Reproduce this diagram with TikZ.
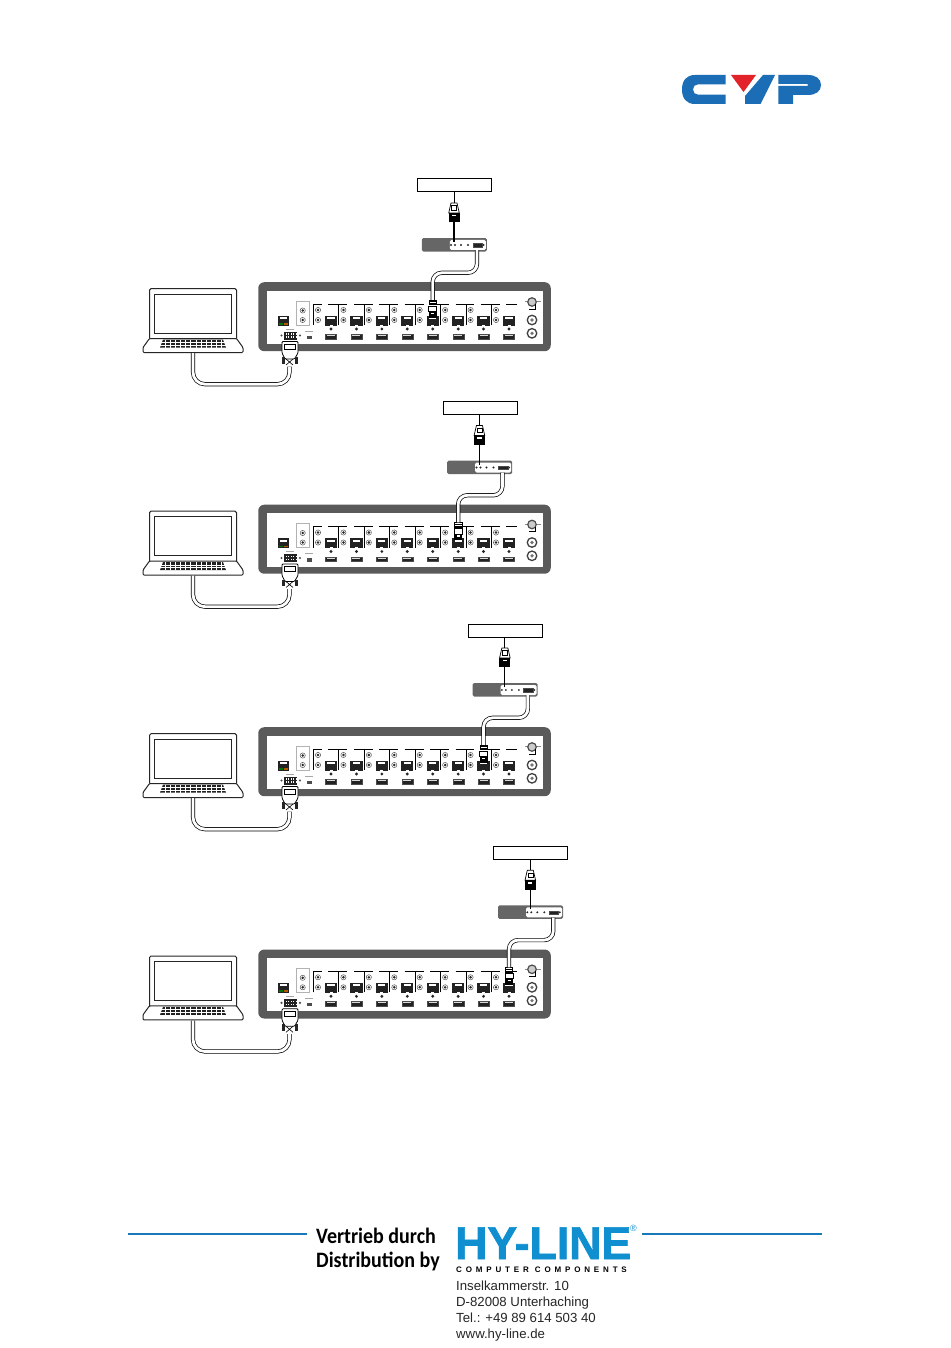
\documentclass[tikz,border=0pt]{standalone}
\usepackage{fontspec}
\usepackage{graphicx}
\setmainfont{Liberation Sans}
\newfontfamily\distfont{Carlito}
\usetikzlibrary{calc}
\definecolor{devgrey}{HTML}{5A5A5A}
\definecolor{rxgrey}{HTML}{666666}
\definecolor{portdark}{HTML}{222222}
\definecolor{cypblue}{HTML}{1B6DB5}
\definecolor{cypred}{HTML}{E2232A}
\definecolor{hyblue}{HTML}{0F8FCF}
\definecolor{ruleblue}{HTML}{1878B8}
\tikzset{
  box/.style={draw=black,line width=1pt,fill=white,minimum width=74pt,minimum height=13pt,inner sep=0pt},
  rxbody/.style={fill=rxgrey,rounded corners=1.5pt,minimum width=65pt,minimum height=13.5pt,inner sep=0pt},
  rxface/.style={fill=white,rounded corners=1.5pt,minimum width=36pt,minimum height=10pt,inner sep=0pt},
  hdmiport/.style={fill=portdark,draw=black!70,line width=.3pt,minimum width=11pt,minimum height=4.5pt,inner sep=0pt},
  rjport/.style={fill=portdark,minimum width=12.3pt,minimum height=10pt,inner sep=0pt},
  devouter/.style={fill=devgrey,rounded corners=6pt,minimum width=292.5pt,minimum height=69pt,inner sep=0pt},
  devinner/.style={fill=white,minimum width=276.5pt,minimum height=53.5pt,inner sep=0pt},
  cable/.style={draw=black,line width=.7pt,double=white,double distance=2.8pt},
  wire/.style={draw=black,line width=1pt},
  thinrule/.style={draw=black,line width=.8pt},
  screw/.style={draw=black!65,fill=white,line width=.5pt},
  scrcore/.style={fill=black!85},
  brand/.style={fill=cypblue},
  laptopline/.style={draw=black!85,line width=1pt,fill=white},
  blueline/.style={draw=ruleblue,line width=2pt},
  addr/.style={anchor=base west,inner sep=0pt,font=\fontsize{13.2}{16}\selectfont,text=black!85},
  dist/.style={anchor=base west,inner sep=0pt,font=\distfont\bfseries\fontsize{22}{24}\selectfont},
}
\newcommand{\diagramrow}[3]{%
\begin{scope}[shift={(0,#2)}]
  \pgfmathsetmacro{\sh}{25.43*(#3-4)}
  \pgfmathsetmacro{\tgtx}{331+25.43*#3}
  % laptop
  \path[laptopline,rounded corners=1.5pt] (149.5,338.5) -- (149.5,288.7) -- (236.5,288.7) -- (236.5,338.5);
  \node[draw=black!85,line width=1pt,fill=white,minimum width=77pt,minimum height=39pt,inner sep=0pt] (#1-screen) at (193,313.8) {};
  \path[laptopline,rounded corners=1pt] (149.5,338.5) -- (143,347.5) -- (143,352.5) -- (243,352.5) -- (243,347.5) -- (236.5,338.5) -- cycle;
  \node[minimum width=100pt,minimum height=1pt,inner sep=0pt] (#1-lapbase) at (193,352.5) {};
  \fill[portdark] (163,339.6) -- (223,339.6) -- (226,347.6) -- (160,347.6) -- cycle;
  \foreach \kx in {1,...,12}{\draw[white,line width=.3pt] ({160+\kx*5.1},339.6) -- ({160+\kx*5.1},347.6);}
  \foreach \ky in {342.2,344.9}{\draw[white,line width=.3pt] (160,\ky) -- (226,\ky);}
  % matrix device
  \node[devouter] (#1-dev) at (404.5,316.7) {};
  \node[devinner] (#1-devin) at (404.8,317.3) {};
  % management port
  \node[rjport,minimum width=11.5pt] (#1-mgmt) at (283.5,320.5) {};
  \fill[white] (280,317) rectangle (287,319);
  \fill[green!45!black] (279,323) rectangle (283,324.5);
  \fill[orange!70!black] (284,323) rectangle (288,324.5);
  \draw[black!35,line width=.4pt] (286,329) -- (294,329);
  % side strip
  \draw[black!30,line width=.5pt] (296.7,300.8) rectangle (309,325);
  \foreach \sy in {310.5,320}{
    \draw[screw] (302.7,\sy) circle (2.6pt); \fill[scrcore] (302.7,\sy) circle (1.4pt);}
  \draw[black!35,line width=.4pt] (305,331) -- (313,331);
  \fill[black!70] (307,335.5) rectangle (311.5,339);
  % outputs
  \foreach \i in {0,...,7}{
    \pgfmathsetmacro{\px}{331+25.43*\i}
    \pgfmathsetmacro{\bx}{\px-17.6}
    \draw[thinrule] (\bx,325) -- (\bx,304) -- ({\bx+8.4},304);
    \draw[thinrule] ({\bx+15},304) -- ({\bx+25.4},304);
    \foreach \sy in {310,320}{
      \draw[screw] ({\px-13},\sy) circle (2.6pt); \fill[scrcore] ({\px-13},\sy) circle (1.4pt);}
    \node[rjport] (#1-port\i) at (\px,320.5) {};
    \fill[white] ({\px-3.6},317) rectangle ({\px+3.6},319);
    \fill[white] ({\px-1.5},324.5) rectangle ({\px+1.5},325.5);
    \fill[black!85] (\px,329) circle (1.6pt);
    \node[hdmiport] (#1-hdmi\i) at (\px,336.5) {};
    \fill[white!85!black] ({\px-4},335) rectangle ({\px+4},336);
  }
  % ground and power
  \draw[black!45,line width=.4pt] (525,301.5) -- (541,301.5);
  \node[circle,draw=black!70,line width=1.2pt,fill=black!20,minimum size=8.5pt,inner sep=0pt] (#1-gnd) at (532,302) {};
  \draw[black,line width=.9pt] (535,304) -- (535,309) -- (529,309);
  \foreach \sy/\nm in {320/a,333.3/b}{
    \node[circle,draw=black!75,line width=1.3pt,fill=white,minimum size=9.5pt,inner sep=0pt] (#1-pw\nm) at (532,\sy) {};
    \fill[black!55] (532,\sy) circle (1.8pt);}
  % serial port and connector
  \node[fill=portdark,minimum width=13pt,minimum height=8pt,inner sep=0pt] (#1-serial) at (290,335.5) {};
  \foreach \sx in {285.5,288,290.5,293,295.5}{\fill[white] (\sx,333.3) rectangle ++(1,1.2);\fill[white] (\sx,336.3) rectangle ++(1,1.2);}
  \foreach \sx in {281.5,300}{\fill[black!70] (\sx,335.5) circle (1.2pt);}
  \draw[fill=white,draw=black,line width=.8pt,rounded corners=1pt] (282,341.5) -- (298,341.5) -- (298,353) -- (294.5,359) -- (285,359) -- (282,353) -- cycle;
  \draw[black,line width=.6pt] (284.5,344) rectangle (295.5,349);
  \fill[black!85] (281.8,357) rectangle (285,363.5);
  \fill[black!85] (295,357) rectangle (298.3,363.5);
  \draw[black,line width=.6pt] (286,359) -- (293,365) (293,359) -- (286,365);
  \node[minimum width=3pt,minimum height=1pt,inner sep=0pt] (#1-db9) at (289.5,366) {};
  \coordinate (#1-kneeA) at (289.5,384.2);
  \draw[cable,rounded corners=12pt] (#1-lapbase.south) |- (#1-kneeA) -- (#1-db9.south);
  % receiver
  \node[rxbody] (#1-rx) at ({454.3+\sh},244.8) {};
  \node[rxface] (#1-rxf) at ({467.8+\sh},245) {};
  \foreach \dx in {451,455,461,468,483.5}{\fill[black!85] ({\dx+\sh},245) circle (1.1pt);}
  \node[hdmiport,minimum width=9.5pt,minimum height=3.5pt] (#1-rxhdmi) at ({477.5+\sh},245.3) {};
  % display
  \node[box] (#1-disp) at ({454.6+\sh},185.5) {};
  \draw[black,line width=.7pt,fill=white] ({451+\sh},203) -- ({457+\sh},203) -- ({459.3+\sh},213) -- ({448.7+\sh},213) -- cycle;
  \draw[black,line width=.5pt] ({451.5+\sh},205.5) rectangle ({456.5+\sh},210);
  \node[minimum width=6pt,minimum height=0pt,inner sep=0pt] (#1-plugt) at ({454+\sh},203) {};
  \node[fill=black,minimum width=11pt,minimum height=9.5pt,inner sep=0pt] (#1-plugb) at ({454+\sh},217.5) {};
  \fill[white] ({451.8+\sh},214.8) rectangle ({456.2+\sh},216.3);
  \draw[wire] (#1-disp.south -| #1-plugt) -- (#1-plugt.north);
  \draw[black,line width=1.2pt] (#1-plugb.south) -- ({454+\sh},242);
  % hdmi cable
  \node[fill=white,draw=black,line width=.6pt,minimum width=7.5pt,minimum height=4.5pt,inner sep=0pt] (#1-hplug) at (\tgtx,302.5) {};
  \coordinate (#1-kneeB) at ({477+\sh},272.8);
  \coordinate (#1-kneeC) at (\tgtx,272.8);
  \draw[cable,rounded corners=9pt] (#1-rxf.south -| #1-kneeB) -- (#1-kneeB) -- (#1-kneeC) -- (#1-hplug.north);
  \draw[black,line width=.4pt] ({\tgtx-3.5},301.5) -- ({\tgtx+3.5},301.5) ({\tgtx-3.5},303.5) -- ({\tgtx+3.5},303.5);
  \node[draw=black,line width=.7pt,fill=white,minimum width=8pt,minimum height=5.5pt,inner sep=0pt] (#1-rjhead) at (\tgtx,308.7) {};
  \fill[black] ({\tgtx-4},311.5) rectangle ({\tgtx+4},317.5);
  \fill[white] ({\tgtx-1.5},312.5) rectangle ({\tgtx+1.5},314);
\end{scope}}
\begin{document}
\begin{tikzpicture}[x=1pt,y=-1pt]
\useasboundingbox (0,0) rectangle (950,1348);
\fill[white] (0,0) rectangle (950,1348);
% CYP logo
\fill[brand] (725.7,75) -- (695,75) .. controls (686,75) and (682,81) .. (682,89.5) .. controls (682,98) and (686,104) .. (695,104) -- (725.7,104) -- (725.7,94.7) -- (698,94.7) .. controls (695,94.7) and (693,92.5) .. (693,89.5) .. controls (693,86.5) and (695,84.3) .. (698,84.3) -- (725.7,84.3) -- cycle;
\fill[cypred] (731,75) -- (756,75) -- (743.5,92) -- cycle;
\fill[brand] (763,75) -- (775,75) -- (760.5,104) -- (745,104) -- (745,96) -- cycle;
\fill[brand] (778.3,75) -- (808,75) .. controls (816,75) and (821,79) .. (821,85) .. controls (821,91) and (816,95) .. (808,95) -- (793,95) -- (793,104) -- (778.3,104) -- (778.3,86) -- (807,86) .. controls (809,86) and (809,84) .. (807,84) -- (778.3,84) -- cycle;
% rows
\diagramrow{ra}{0}{4}
\diagramrow{rb}{222.5}{5}
\diagramrow{rc}{445}{6}
\diagramrow{rd}{667.3}{7}
% footer
\draw[blueline] (128,1233.5) -- (307,1233.5);
\draw[blueline] (642,1233.5) -- (822,1233.5);
\node[dist] (vert) at (316,1243) {\scalebox{.91}[1]{Vertrieb durch}};
\node[dist] (distr) at (316,1267) {\scalebox{.91}[1]{Distribution by}};
\node[anchor=base west,inner sep=0pt,text=hyblue,font=\bfseries\fontsize{46}{48}\selectfont] (hyline) at (455,1259) {\addfontfeature{FakeBold=1.5}\scalebox{.97}[1]{HY-LINE}};
\node[anchor=base west,inner sep=0pt,text=hyblue,font=\fontsize{9}{10}\selectfont] (reg) at (630,1231) {®};
\node[anchor=base west,inner sep=0pt,font=\bfseries\fontsize{8}{9}\selectfont] (cc) at (456,1272) {\addfontfeature{LetterSpace=48}COMPUTER COMPONENTS};
\node[addr] (a1) at (456,1290) {Inselkammerstr. 10};
\node[addr] (a2) at (456,1306) {D-82008 Unterhaching};
\node[addr] (a3) at (456,1322) {Tel.: +49 89 614 503 40};
\node[addr] (a4) at (456,1338) {www.hy-line.de};
\end{tikzpicture}
\end{document}
